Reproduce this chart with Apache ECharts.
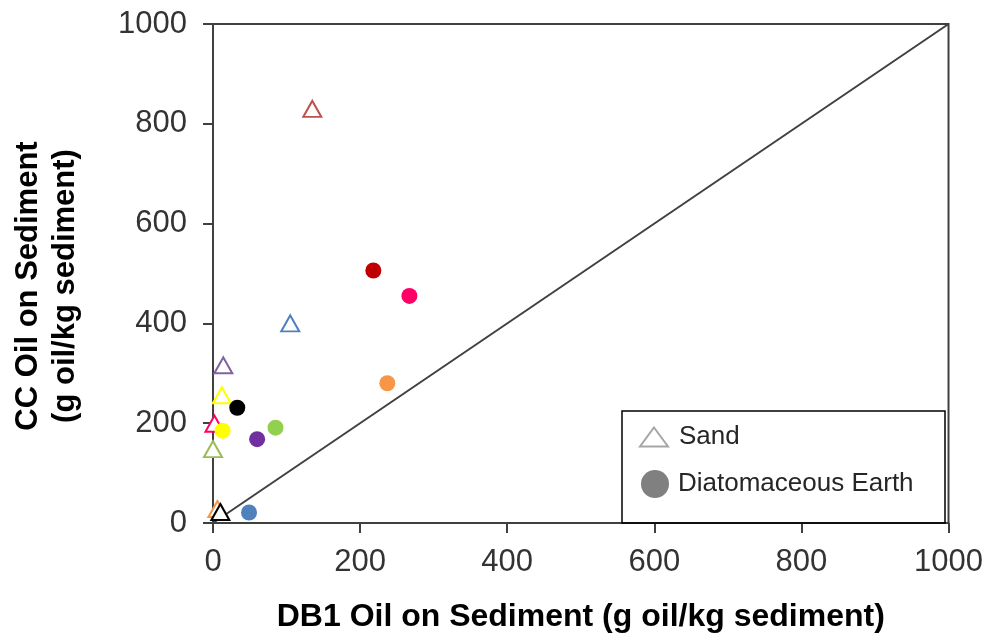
<!DOCTYPE html>
<html>
<head>
<meta charset="utf-8">
<script src="https://cdn.jsdelivr.net/npm/echarts@6/dist/echarts.min.js"></script>
<style>
  html, body { margin: 0; padding: 0; background: #fff; }
  #chart { width: 986px; height: 638px; }
</style>
</head>
<body>
<div id="chart"></div>
<script>
// Oil on sediment: CC method vs DB1 method (g oil / kg sediment)
const sandX = [135, 105, 14, 12, 2, 0, 6, 10];
const sandY = [830, 400, 316, 256, 199, 148, 28, 22];
const sandColors = ['#C0504D', '#4F81BD', '#8064A2', '#FFFF00', '#FF0066', '#9BBB59', '#F79646', '#000000'];

const earthX = [218, 267, 237, 33, 85, 60, 13, 49];
const earthY = [506, 455, 280, 231, 191, 168, 185, 21];
const earthColors = ['#C00000', '#FF0066', '#F79646', '#000000', '#92D050', '#7030A0', '#FFFF00', '#4F81BD'];

// 1:1 reference line
const identityLine = [0, 1000];

const axisTicks = [0, 200, 400, 600, 800, 1000];

const FONT = "'Liberation Sans', Arial, sans-serif";
const AXIS_COLOR = '#404040';

const chart = echarts.init(document.getElementById('chart'), null, { renderer: 'canvas' });

const sandData = sandX.map((x, i) => ({
  value: [x, sandY[i]],
  itemStyle: { borderColor: sandColors[i] }
}));
const earthData = earthX.map((x, i) => ({
  value: [x, earthY[i]],
  itemStyle: { color: earthColors[i] }
}));

const axisCommon = {
  type: 'value',
  min: axisTicks[0],
  max: axisTicks[axisTicks.length - 1],
  interval: axisTicks[1] - axisTicks[0],
  axisLine: { show: true, onZero: false, lineStyle: { color: AXIS_COLOR, width: 2 } },
  axisTick: { show: true, inside: false, length: 10, lineStyle: { color: AXIS_COLOR, width: 2 } },
  splitLine: { show: false },
  axisLabel: { color: '#333', fontFamily: FONT, fontSize: 31, formatter: v => String(v) }
};

chart.setOption({
  animation: false,
  backgroundColor: '#fff',
  grid: {
    left: 213, right: 37, top: 24, bottom: 113,
    show: true, borderColor: AXIS_COLOR, borderWidth: 2, backgroundColor: 'transparent'
  },
  xAxis: Object.assign({}, axisCommon, {
    axisLabel: Object.assign({}, axisCommon.axisLabel, { margin: 24 }),
    name: 'DB1 Oil on Sediment (g oil/kg sediment)',
    nameLocation: 'middle',
    nameGap: 78,
    nameTextStyle: { fontFamily: FONT, fontSize: 32, fontWeight: 'bold', color: '#000' }
  }),
  yAxis: Object.assign({}, axisCommon, {
    axisLabel: Object.assign({}, axisCommon.axisLabel, { margin: 26 })
  }),
  legend: [
    {
      data: [{ name: 'Sand', icon: 'triangle',
               itemStyle: { color: '#fff', borderColor: '#A6A6A6', borderWidth: 2 } }],
      left: 639, top: 424, padding: 0,
      itemWidth: 28, itemHeight: 19,
      textStyle: { fontFamily: FONT, fontSize: 26, color: '#262626', padding: [0, 0, 0, 6] }
    },
    {
      data: [{ name: 'Diatomaceous Earth', icon: 'circle',
               itemStyle: { color: '#808080', borderWidth: 0 } }],
      left: 641, top: 470, padding: 0,
      itemWidth: 28, itemHeight: 28,
      textStyle: { fontFamily: FONT, fontSize: 26, color: '#262626', padding: [0, 0, 12, 4] }
    }
  ],
  graphic: [
    {
      type: 'rect', z: 10, silent: true,
      shape: { x: 622, y: 411, width: 323, height: 112 },
      style: { fill: 'none', stroke: '#000', lineWidth: 1.5 }
    },
    {
      type: 'text', x: 47, y: 286, rotation: Math.PI / 2, silent: true,
      style: {
        text: 'CC Oil on Sediment\n(g oil/kg sediment)',
        x: 0, y: 0, align: 'center', verticalAlign: 'middle',
        font: "bold 31px 'Liberation Sans', Arial, sans-serif",
        lineHeight: 37, fill: '#000'
      }
    }
  ],
  series: [
    {
      name: '1:1',
      type: 'line',
      data: [[identityLine[0], identityLine[0]], [identityLine[1], identityLine[1]]],
      symbol: 'none',
      lineStyle: { color: AXIS_COLOR, width: 2 },
      silent: true,
      z: 1
    },
    {
      name: 'Sand',
      type: 'scatter',
      symbol: 'triangle',
      symbolSize: [18, 16],
      data: sandData,
      itemStyle: { color: '#fff', borderColor: '#A6A6A6', borderWidth: 2, opacity: 1 },
      z: 3
    },
    {
      name: 'Diatomaceous Earth',
      type: 'scatter',
      symbol: 'circle',
      symbolSize: 16,
      data: earthData,
      itemStyle: { color: '#808080', opacity: 1 },
      z: 4
    }
  ]
});
</script>
</body>
</html>
